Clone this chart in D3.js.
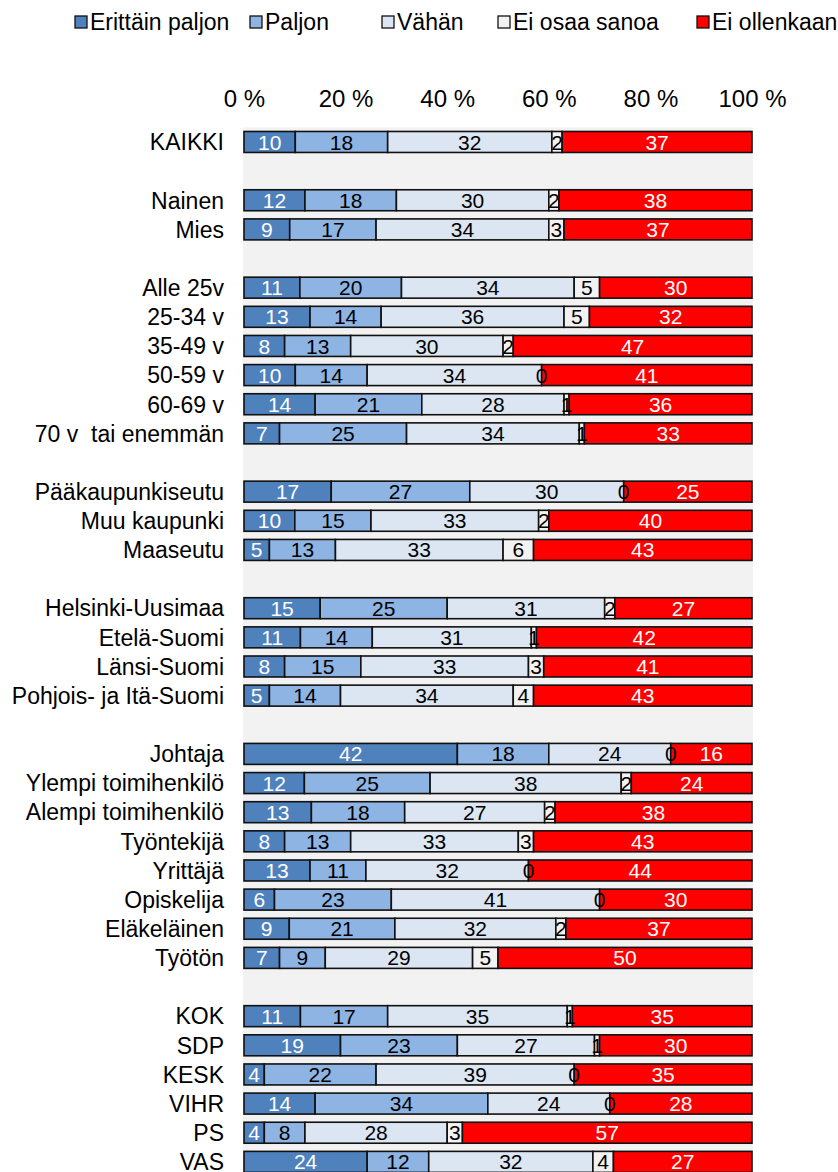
<!DOCTYPE html>
<html>
<head>
<meta charset="utf-8">
<script src="https://cdn.jsdelivr.net/npm/d3@7"></script>
<style>
  html, body { margin: 0; padding: 0; background: #ffffff; }
  svg { display: block; font-family: "Liberation Sans", Arial, sans-serif; }
  text { white-space: pre; }
</style>
</head>
<body>
<svg id="chart" width="838" height="1172"></svg>
<script>
// ---- DATA ----
const seriesNames = ["Erittäin paljon", "Paljon", "Vähän", "Ei osaa sanoa", "Ei ollenkaan"];
// "" = empty spacer row between groups
const categories = [
  "KAIKKI", "",
  "Nainen", "Mies", "",
  "Alle 25v", "25-34 v", "35-49 v", "50-59 v", "60-69 v", "70 v  tai enemmän", "",
  "Pääkaupunkiseutu", "Muu kaupunki", "Maaseutu", "",
  "Helsinki-Uusimaa", "Etelä-Suomi", "Länsi-Suomi", "Pohjois- ja Itä-Suomi", "",
  "Johtaja", "Ylempi toimihenkilö", "Alempi toimihenkilö", "Työntekijä", "Yrittäjä", "Opiskelija", "Eläkeläinen", "Työtön", "",
  "KOK", "SDP", "KESK", "VIHR", "PS", "VAS"
];
const erittainPaljon = [10, null, 12, 9, null, 11, 13, 8, 10, 14, 7, null, 17, 10, 5, null, 15, 11, 8, 5, null, 42, 12, 13, 8, 13, 6, 9, 7, null, 11, 19, 4, 14, 4, 24];
const paljon         = [18, null, 18, 17, null, 20, 14, 13, 14, 21, 25, null, 27, 15, 13, null, 25, 14, 15, 14, null, 18, 25, 18, 13, 11, 23, 21, 9, null, 17, 23, 22, 34, 8, 12];
const vahan          = [32, null, 30, 34, null, 34, 36, 30, 34, 28, 34, null, 30, 33, 33, null, 31, 31, 33, 34, null, 24, 38, 27, 33, 32, 41, 32, 29, null, 35, 27, 39, 24, 28, 32];
const eiOsaaSanoa    = [2, null, 2, 3, null, 5, 5, 2, 0, 1, 1, null, 0, 2, 6, null, 2, 1, 3, 4, null, 0, 2, 2, 3, 0, 0, 2, 5, null, 1, 1, 0, 0, 3, 4];
const eiOllenkaan    = [37, null, 38, 37, null, 30, 32, 47, 41, 36, 33, null, 25, 40, 43, null, 27, 42, 41, 43, null, 16, 24, 38, 43, 44, 30, 37, 50, null, 35, 30, 35, 28, 57, 27];
const axisTicks = [0, 0.2, 0.4, 0.6, 0.8, 1.0];

// ---- STYLE ----
const colors = ["#4F81BD", "#8EB4E3", "#DCE6F2", "#F2F2F2", "#FF0000"];
const labelColors = ["#ffffff", "#000000", "#000000", "#000000", "#ffffff"];

const svg = d3.select("#chart");
const W = 838, H = 1172;
const plotLeft = 244, plotRight = 752;
const plotTop = 127.4, rowStep = 29.14;

const valueArrays = [erittainPaljon, paljon, vahan, eiOsaaSanoa, eiOllenkaan];
const rows = categories.map((c, i) => ({
  idx: i, label: c,
  values: valueArrays.map(a => a[i])
}));

const x = d3.scaleLinear().domain([0, 1]).range([plotLeft, plotRight]);
const y = d3.scaleBand()
  .domain(rows.map(r => r.idx))
  .range([plotTop, plotTop + rowStep * rows.length])
  .paddingInner(0.28).paddingOuter(0.14);

// plot background
svg.append("rect")
  .attr("x", plotLeft - 1).attr("y", plotTop)
  .attr("width", plotRight - plotLeft + 2).attr("height", H - plotTop + 20)
  .attr("fill", "#F2F2F2");

// top axis labels
const axis = d3.axisTop(x).tickValues(axisTicks)
  .tickFormat(d => Math.round(d * 100) + " %").tickSize(0).tickPadding(0);
const ax = svg.append("g").attr("transform", "translate(0,107)").call(axis);
ax.select(".domain").remove();
ax.selectAll("text").attr("font-size", 24).attr("fill", "#000")
  .attr("font-family", "Liberation Sans, Arial, sans-serif").attr("dy", 0);

// category labels
svg.append("g").selectAll("text")
  .data(rows.filter(r => r.label !== ""))
  .join("text")
  .attr("x", 224)
  .attr("y", r => y(r.idx) + y.bandwidth() / 2)
  .attr("dy", "0.36em")
  .attr("text-anchor", "end")
  .attr("font-size", 23)
  .attr("fill", "#000")
  .text(r => r.label);

// stacked bars (normalised to 100 %)
const segs = [];
rows.filter(r => r.label !== "").forEach(r => {
  const total = d3.sum(r.values);
  let acc = 0;
  r.values.forEach((v, k) => {
    segs.push({ idx: r.idx, k, v, x0: acc / total, x1: (acc + v) / total });
    acc += v;
  });
});

const gBars = svg.append("g");
gBars.selectAll("rect")
  .data(segs)
  .join("rect")
  .attr("x", d => x(d.x0))
  .attr("y", d => y(d.idx))
  .attr("width", d => Math.max(0, x(d.x1) - x(d.x0)))
  .attr("height", y.bandwidth())
  .attr("fill", d => colors[d.k])
  .attr("stroke", "#111")
  .attr("stroke-width", 1.6);

gBars.selectAll("text")
  .data(segs)
  .join("text")
  .attr("x", d => (x(d.x0) + x(d.x1)) / 2)
  .attr("y", d => y(d.idx) + y.bandwidth() / 2)
  .attr("dy", "0.36em")
  .attr("text-anchor", "middle")
  .attr("font-size", 21)
  .attr("fill", d => labelColors[d.k])
  .text(d => d.v);

// legend
const legendX = [75, 250, 382, 498, 697];
const lg = svg.append("g");
seriesNames.forEach((name, k) => {
  lg.append("rect")
    .attr("x", legendX[k]).attr("y", 16)
    .attr("width", 12).attr("height", 12)
    .attr("fill", colors[k]).attr("stroke", "#111").attr("stroke-width", 1.3);
  lg.append("text")
    .attr("x", legendX[k] + 15).attr("y", 30)
    .attr("font-size", 23).attr("fill", "#000")
    .text(name);
});
</script>
</body>
</html>
